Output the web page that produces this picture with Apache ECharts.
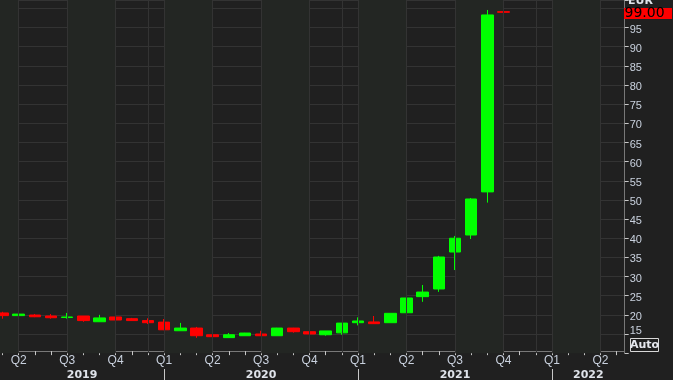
<!DOCTYPE html>
<html>
<head>
<meta charset="utf-8">
<script src="https://cdn.jsdelivr.net/npm/echarts@6/dist/echarts.min.js"></script>
<style>
html,body{margin:0;padding:0;background:#202020;overflow:hidden;width:673px;height:380px;position:relative;}
#c{position:absolute;left:-22px;top:0;width:695px;height:380px;}
</style>
</head>
<body>
<div id="c"></div>
<script>
// Monthly categories (first one only pads the left edge)
const months = ['Feb 2019','Mar 2019','Apr 2019','May 2019','Jun 2019','Jul 2019','Aug 2019','Sep 2019','Oct 2019','Nov 2019','Dec 2019',
  'Jan 2020','Feb 2020','Mar 2020','Apr 2020','May 2020','Jun 2020','Jul 2020','Aug 2020','Sep 2020','Oct 2020','Nov 2020','Dec 2020',
  'Jan 2021','Feb 2021','Mar 2021','Apr 2021','May 2021','Jun 2021','Jul 2021','Aug 2021','Sep 2021','Oct 2021','Nov 2021','Dec 2021',
  'Jan 2022','Feb 2022','Mar 2022','Apr 2022','May 2022'];
// Candles from Mar 2019 to Oct 2021
const candleMonths = ['Mar 2019','Apr 2019','May 2019','Jun 2019','Jul 2019','Aug 2019','Sep 2019','Oct 2019','Nov 2019','Dec 2019',
  'Jan 2020','Feb 2020','Mar 2020','Apr 2020','May 2020','Jun 2020','Jul 2020','Aug 2020','Sep 2020','Oct 2020','Nov 2020','Dec 2020',
  'Jan 2021','Feb 2021','Mar 2021','Apr 2021','May 2021','Jun 2021','Jul 2021','Aug 2021','Sep 2021','Oct 2021'];
const opens  = [20.5,19.8,19.95,19.7,19.3,19.7,18.2,19.45,19.0,18.5, 18.1,15.85,16.55,14.8,14.05,14.55,15.0,14.55,16.55,15.6,14.8,15.3, 17.95,18.15,17.95,20.55,24.75,26.75,36.4,40.85,52.1,99.15];
const closes = [19.8,20.2,19.5,19.25,19.45,18.5,19.2,18.65,18.5,17.95, 16.1,16.55,14.55,14.3,14.8,15.25,14.55,16.55,15.6,15.0,15.8,17.85, 18.4,17.7,20.4,24.4,25.95,35.1,40.0,50.25,98.3,99.0];
const lows   = [19.0,19.8,19.4,19.0,19.0,18.2,18.2,18.6,18.4,17.6, 16.0,15.8,14.0,14.3,14.0,14.55,14.5,14.55,15.35,15.0,14.55,14.8, 17.25,17.7,17.95,20.2,23.4,26.0,31.7,39.8,49.3,91.9];
const highs  = [20.8,21.0,20.2,20.2,20.5,19.7,20.0,19.7,19.2,19.1, 18.9,17.9,16.85,15.5,15.25,15.3,15.85,16.6,16.6,16.1,15.8,17.85, 19.35,19.7,20.4,24.4,27.8,35.4,40.6,50.5,99.6,100.45];
const quarterLabels = {1:'Q1',4:'Q2',7:'Q3',10:'Q4'};
const yearLabels = ['2019','2020','2021','2022'];
const lastPrice = 99.00;
const currency = 'EUR';

const monthIdx = {Jan:1,Feb:2,Mar:3,Apr:4,May:5,Jun:6,Jul:7,Aug:8,Sep:9,Oct:10,Nov:11,Dec:12};
const OFF = 22; // chart canvas starts 22px left of the page

const candleData = months.map(m => {
  const i = candleMonths.indexOf(m);
  return i < 0 ? '-' : [opens[i], closes[i], lows[i], highs[i]];
});

// shading for Q1/Q3 bands and vertical quarter lines
const shadeAreas = [];
const vLines = [];
months.forEach((m, i) => {
  const mo = monthIdx[m.slice(0,3)];
  if (mo === 1 || mo === 7 || i === 0) {
    const end = months[Math.min(i + (i === 0 ? 2 : 3), months.length - 1)];
    shadeAreas.push([{xAxis: m}, {xAxis: end}]);
  }
  if ((mo === 1 || mo === 4 || mo === 7 || mo === 10 || mo === 12) && i > 0) vLines.push({xAxis: m});
});

const chart = echarts.init(document.getElementById('c'), null, {renderer: 'canvas'});
const FONT = 'Liberation Sans';
chart.setOption({
  backgroundColor: '#202020',
  animation: false,
  grid: {left: 0.26, right: 48.3, top: 0, bottom: 26.85, containLabel: false},
  xAxis: {
    type: 'category', data: months, boundaryGap: true, offset: -2,
    axisLine: {lineStyle: {color: '#787878', width: 1}},
    axisTick: {show: true, alignWithLabel: true, interval: 0, length: 4, lineStyle: {color: '#c8c8c8'}},
    axisLabel: {interval: 0, margin: 4, color: '#c9d1de', fontSize: 12, fontFamily: FONT,
      formatter: v => quarterLabels[monthIdx[v.slice(0,3)]] || ''},
    splitLine: {show: false}
  },
  yAxis: {
    type: 'value', position: 'right', min: 10, max: 102.2, interval: 5,
    axisLine: {show: true, lineStyle: {color: '#787878'}},
    axisTick: {show: true, length: 4, lineStyle: {color: '#c8c8c8'}},
    axisLabel: {margin: 5, color: '#c9d1de', fontSize: 11, fontFamily: FONT,
      formatter: v => (v === 15 ? '{lo|15}' : ((v % 5 === 0 && v > 15 && v < 100) ? '{n|' + v + '}' : '')),
      rich: {
        lo: {color: '#c9d1de', fontSize: 11, fontFamily: FONT, padding: [0, 0, 7, 0]},
        n: {color: '#c9d1de', fontSize: 11, fontFamily: FONT, padding: [4, 0, 0, 0]}
      }},
    splitLine: {show: true, showMinLine: false, lineStyle: {color: '#333333', width: 1}}
  },
  series: [
    {
      type: 'line', data: [], z: -1, silent: true,
      markArea: {silent: true, itemStyle: {color: '#232623', opacity: 1}, data: shadeAreas},
      markLine: {silent: true, symbol: ['none','none'], label: {show: false},
        lineStyle: {color: '#333333', type: 'solid', width: 1, opacity: 1}, data: vLines}
    },
    {
      type: 'candlestick', z: 3, barWidth: 12, data: candleData,
      itemStyle: {color: '#00ff00', color0: '#ff0000', borderColor: '#00ff00', borderColor0: '#ff0000', borderWidth: 1}
    }
  ]
});

// Overlay texts positioned through the chart's own scales
const px = m => chart.convertToPixel({xAxisIndex: 0}, m);
const py = v => chart.convertToPixel({yAxisIndex: 0}, v);
const bandW = px('May 2022') - px('Apr 2022');
const rightEdge = px('May 2022') + bandW / 2;
const janX = ['Jan 2020','Jan 2021','Jan 2022'].map(px);
const yearBounds = [OFF, janX[0], janX[1], janX[2], rightEdge];
const g = [];
yearLabels.forEach((y, i) => {
  g.push({type: 'text', x: (yearBounds[i] + yearBounds[i+1]) / 2, y: 375, z: 100,
    style: {text: y, fill: '#dfe3ea', font: 'bold 11px "DejaVu Sans"', textAlign: 'center', textVerticalAlign: 'middle'}});
});
janX.forEach(x => {
  g.push({type: 'line', z: 100, shape: {x1: Math.round(x) + 0.5, y1: 369, x2: Math.round(x) + 0.5, y2: 380}, style: {stroke: '#c8c8c8', lineWidth: 1}});
});
const tagY = py(lastPrice);
g.push({type: 'text', z: 101, x: Math.round(rightEdge) + 3, y: Math.round(tagY) - 5,
  style: {text: currency, fill: '#e0e4ea', font: 'bold 11px "DejaVu Sans"', textVerticalAlign: 'bottom'}});
g.push({type: 'rect', z: 100, shape: {x: Math.round(rightEdge) - 1, y: Math.round(tagY) - 4, width: 48, height: 11}, style: {fill: '#ff0000'}});
g.push({type: 'text', z: 101, x: Math.round(rightEdge) - 0.5, y: Math.round(tagY) + 1.5,
  style: {text: lastPrice.toFixed(2), fill: '#000000', font: '14px "DejaVu Sans"', textVerticalAlign: 'middle'}});
// Auto button
g.push({type: 'rect', z: 100, shape: {x: 630.5 + OFF, y: 338.5, width: 28, height: 13}, style: {fill: '#202020', stroke: '#d8d8d8', lineWidth: 1}});
g.push({type: 'text', z: 101, x: 644.5 + OFF, y: 345.5,
  style: {text: 'Auto', fill: '#e6e8ee', font: 'bold 11px "DejaVu Sans"', textAlign: 'center', textVerticalAlign: 'middle'}});
chart.setOption({graphic: g});
</script>
</body>
</html>
